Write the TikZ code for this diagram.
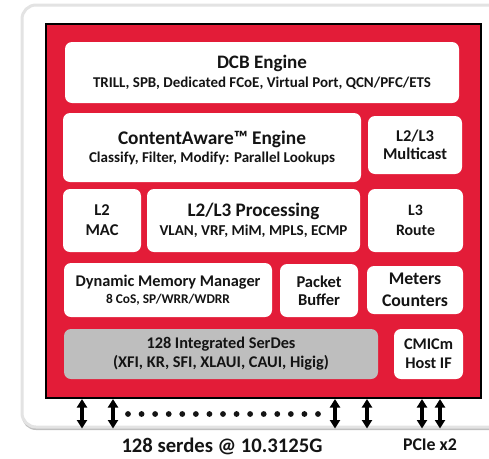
\documentclass[tikz,border=0pt]{standalone}
\usepackage{fontspec}
\setmainfont{Carlito}
\usetikzlibrary{arrows.meta}
\definecolor{chipred}{RGB}{227,28,56}
\definecolor{txt}{RGB}{20,20,20}
\definecolor{sgray}{RGB}{190,190,190}
\newcommand{\fs}[2]{\fontsize{#1}{#2}\selectfont}
% set a line of text so that its width is #1 (in pt)
\newcommand{\fitto}[2]{{\setbox0=\hbox{\fontsize{10pt}{12pt}\selectfont #2}%
  \pgfmathsetmacro\fitsz{10*#1/\wd0}%
  \fontsize{\fitsz pt}{\fitsz pt}\selectfont #2}}
% compute the size that gives #2 the width #1, reuse it with \uselast
\newcommand{\calcsz}[2]{\setbox0=\hbox{\fontsize{10pt}{12pt}\selectfont #2}%
  \pgfmathsetmacro\fitsz{10*#1/\wd0}\global\let\lastsz\fitsz}
\newcommand{\uselast}[1]{{\fontsize{\lastsz pt}{\lastsz pt}\selectfont #1}}
\tikzset{
  blk/.style={rounded corners=7pt, fill=white, inner sep=0pt, align=center, text=txt, font=\bfseries},
  bidir/.style={line width=3.1pt, {Triangle[length=8.5pt,width=10pt]}-{Triangle[length=8.5pt,width=10pt]}},
  lbl/.style={text=txt, font=\bfseries, inner sep=0pt}
}
\begin{document}
\begin{tikzpicture}[x=1pt,y=-1pt]
\useasboundingbox (0,0) rectangle (489,458);
\clip (0,0) rectangle (489,458);
% board
\fill[gray!50, rounded corners=14pt] (22,7) rectangle (540,430);
\draw[gray!22, line width=3pt, fill=white, rounded corners=14pt] (22,5) rectangle (540,427);
\node[draw=black, line width=2.6pt, fill=chipred, inner sep=0pt, minimum width=435pt, minimum height=374pt] (chip) at (263.5,211) {};
% blocks
\node[blk, minimum width=394pt, minimum height=61pt, font=\bfseries\fs{18}{18.5}] (dcb) at (262,72.5)
  {\fitto{90}{DCB Engine}\\\fitto{338}{TRILL, SPB, Dedicated FCoE, Virtual Port, QCN/PFC/ETS}};
\node[blk, minimum width=298pt, minimum height=69pt, font=\bfseries\fs{18}{18}] (ca) at (212,147.5)
  {\fitto{188}{ContentAware™ Engine}\\\fitto{246}{Classify, Filter, Modify: Parallel Lookups}};
\node[blk, minimum width=94pt, minimum height=58pt, font=\bfseries\fs{14.5}{18}] (mc) at (415,145)
  {\calcsz{64}{Multicast}\uselast{L2/L3}\\\uselast{Multicast}};
\node[blk, minimum width=78pt, minimum height=63pt, font=\bfseries\fs{15}{20}] (mac) at (102,220.5)
  {\calcsz{33}{MAC}\uselast{L2}\\\uselast{MAC}};
\node[blk, minimum width=213pt, minimum height=63pt, font=\bfseries\fs{17.5}{19}] (proc) at (253.5,220.5)
  {\fitto{132}{L2/L3 Processing}\\\fitto{188}{VLAN, VRF, MiM, MPLS, ECMP}};
\node[blk, minimum width=95pt, minimum height=63pt, font=\bfseries\fs{15}{20}] (route) at (415.5,220.5)
  {\calcsz{39}{Route}\uselast{L3}\\\uselast{Route}};
\node[blk, minimum width=208pt, minimum height=54pt, font=\bfseries\fs{14.5}{17}] (dmm) at (168,290)
  {\fitto{185}{Dynamic Memory Manager}\\\fitto{124}{8 CoS, SP/WRR/WDRR}};
\node[blk, minimum width=78pt, minimum height=53pt, font=\bfseries\fs{14.5}{18}] (pb) at (319,290.5)
  {\calcsz{45}{Packet}\uselast{Packet}\\\uselast{Buffer}};
\node[blk, minimum width=96pt, minimum height=48pt, font=\bfseries\fs{16.5}{22}] (meters) at (415,290)
  {\calcsz{66}{Counters}\uselast{Meters}\\\uselast{Counters}};
\node[blk, fill=sgray, minimum width=314pt, minimum height=50pt, font=\bfseries\fs{15}{19}] (serdes) at (221,354)
  {\fitto{149}{128 Integrated SerDes}\\\fitto{216}{(XFI, KR, SFI, XLAUI, CAUI, Higig)}};
\node[blk, minimum width=69pt, minimum height=50pt, font=\bfseries\fs{15}{19}] (cmic) at (428.5,354)
  {\calcsz{49}{CMICm}\uselast{CMICm}\\\uselast{Host IF}};
% connectors
\foreach \i/\x in {1/82,2/113,3/335,4/367,5/422,6/440}{
  \coordinate (t\i) at (\x,399);
  \coordinate (b\i) at (\x,428.5);
  \draw[bidir] (t\i) -- (b\i);
}
\foreach \k in {0,...,14}{
  \fill[txt] ({128+\k*13.57},414) circle (2.9pt);
}
\node[lbl] (serlbl) at (222,446) {\fitto{201}{128 serdes @ 10.3125G}};
\node[lbl] (pcilbl) at (430,445) {\fitto{54}{PCIe x2}};
\end{tikzpicture}
\end{document}
